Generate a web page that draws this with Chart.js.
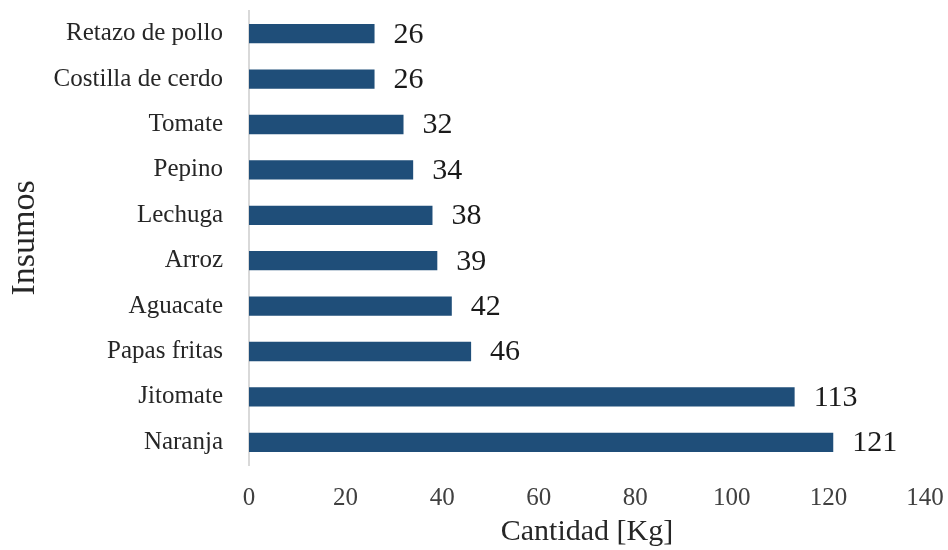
<!DOCTYPE html>
<html>
<head>
<meta charset="utf-8">
<script src="https://cdn.jsdelivr.net/npm/chart.js@4"></script>
<style>
  body { margin: 0; background: #fff; }
</style>
</head>
<body>
<canvas id="myChart" width="948" height="550"></canvas>
<script>
Chart.defaults.font.family = "'Liberation Serif', 'Times New Roman', serif";
Chart.defaults.color = "#404040";

const insumos = ['Retazo de pollo', 'Costilla de cerdo', 'Tomate', 'Pepino', 'Lechuga',
                 'Arroz', 'Aguacate', 'Papas fritas', 'Jitomate', 'Naranja'];
const cantidad = [26, 26, 32, 34, 38, 39, 42, 46, 113, 121];
const xTicks = [0, 20, 40, 60, 80, 100, 120, 140];

// value next to each bar
const valueLabels = {
  id: 'valueLabels',
  afterDatasetsDraw(chart) {
    const ctx = chart.ctx;
    const meta = chart.getDatasetMeta(0);
    ctx.save();
    ctx.font = "30px 'Liberation Serif', serif";
    ctx.fillStyle = '#1a1a1a';
    ctx.textAlign = 'left';
    ctx.textBaseline = 'middle';
    meta.data.forEach((bar, i) => {
      ctx.fillText(cantidad[i], bar.x + 19, bar.y + 1);
    });
    ctx.restore();
  }
};

// drop the label overflow padding so the plot area sits where the layout says
function noPad(scale) {
  scale.paddingLeft = 0;
  scale.paddingRight = 0;
  scale.paddingTop = 0;
  scale.paddingBottom = 0;
}

const config = {
  type: 'bar',
  data: {
    labels: insumos,
    datasets: [{
      data: cantidad,
      backgroundColor: '#1f4e79',
      borderWidth: 0,
      barPercentage: 0.425,
      categoryPercentage: 1,
    }]
  },
  options: {
    indexAxis: 'y',
    responsive: false,
    animation: false,
    layout: {
      padding: { top: 11, right: 23, left: 0, bottom: 0 }
    },
    plugins: {
      legend: { display: false },
      tooltip: { enabled: false },
    },
    scales: {
      x: {
        min: 0,
        max: 140,
        afterBuildTicks: (scale) => { scale.ticks = xTicks.map(v => ({ value: v })); },
        afterFit: (scale) => { scale.height = 85; noPad(scale); },
        grid: { display: false, drawTicks: false },
        border: { display: false },
        ticks: {
          padding: 18,
          font: { size: 25 },
          color: '#404040',
        },
        title: {
          display: true,
          text: 'Cantidad [Kg]',
          font: { size: 30 },
          color: '#262626',
          padding: { top: 7, bottom: 0 },
        }
      },
      y: {
        afterFit: (scale) => { scale.width = 249; noPad(scale); },
        grid: { display: false, drawTicks: false },
        border: { display: true, color: '#d9d9d9', width: 2 },
        ticks: {
          padding: 26,
          font: { size: 25 },
          color: '#262626',
        },
        title: {
          display: true,
          text: 'Insumos',
          font: { size: 34 },
          color: '#262626',
          padding: { top: 5, bottom: 0 },
        }
      }
    }
  },
  plugins: [valueLabels],
};

const myChart = new Chart(document.getElementById('myChart'), config);
</script>
</body>
</html>
